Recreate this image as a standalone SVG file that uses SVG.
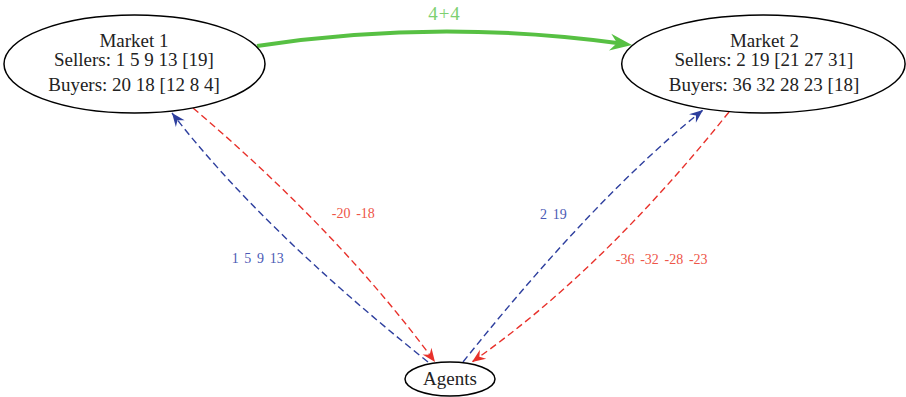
<svg xmlns="http://www.w3.org/2000/svg" width="906" height="397" viewBox="0 0 906 397">
<style>
.node ellipse{fill:#fff;stroke:#000;stroke-width:1.5}
.nt{font-family:"Liberation Serif","Times New Roman",serif;font-size:19px;fill:#222;text-anchor:middle}
.lbl{font-family:"Liberation Serif","Times New Roman",serif;font-size:14px;text-anchor:middle;word-spacing:2.2px}
.gl{font-family:"Liberation Serif","Times New Roman",serif;font-size:19px;text-anchor:middle;letter-spacing:1px;fill:#7dd070}
.dash{fill:none;stroke-width:1.4;stroke-dasharray:7 4}
.blue{stroke:#2e3f9e}
.red{stroke:#e8312b}
</style>
<defs>
<marker id="ahBlue" markerUnits="userSpaceOnUse" viewBox="-15 -7 16 14" refX="0" refY="0" markerWidth="16" markerHeight="14" orient="auto">
<path d="M0,0 L-13.5,-5.5 L-9,0 L-13.5,5.5 Z" fill="#2e3f9e"/>
</marker>
<marker id="ahRed" markerUnits="userSpaceOnUse" viewBox="-15 -7 16 14" refX="0" refY="0" markerWidth="16" markerHeight="14" orient="auto">
<path d="M0,0 L-13.5,-5.5 L-9,0 L-13.5,5.5 Z" fill="#e8312b"/>
</marker>
<marker id="ahGreen" markerUnits="userSpaceOnUse" viewBox="-23 -10 24 20" refX="-15" refY="0" markerWidth="24" markerHeight="20" orient="auto">
<path d="M0,0 L-22,-8.5 L-15,0 L-22,8.5 Z" fill="#57c043"/>
</marker>
</defs>
<rect width="906" height="397" fill="#fff"/>
<g id="connectors">
<path d="M257,46 Q435.5,18.5 617.1,43" fill="none" stroke="#57c043" stroke-width="4" marker-end="url(#ahGreen)"/>
<path class="dash blue" d="M428,362 Q260.4,227.9 172,113" marker-end="url(#ahBlue)"/>
<path class="dash red" d="M193,108 Q340.3,233.2 435,362" marker-end="url(#ahRed)"/>
<path class="dash blue" d="M463,362 Q596.3,195.3 703,110" marker-end="url(#ahBlue)"/>
<path class="dash red" d="M729,112 Q601.5,271.4 472,362" marker-end="url(#ahRed)"/>
<text class="gl" x="444.5" y="20">4+4</text>
<text class="lbl" x="257.7" y="262.7" fill="#4a5ab5">1 5 9 13</text>
<text class="lbl" x="353.3" y="218" fill="#ee5548">-20 -18</text>
<text class="lbl" x="553.3" y="219.3" fill="#4a5ab5">2 19</text>
<text class="lbl" x="661.7" y="264" fill="#ee5548">-36 -32 -28 -23</text>
</g>
<g id="market1" class="node">
<ellipse cx="134.5" cy="64" rx="130.5" ry="49"/>
<text class="nt" x="134" y="47">Market 1</text>
<text class="nt" x="134" y="66">Sellers: 1 5 9 13 [19]</text>
<text class="nt" x="134" y="91">Buyers: 20 18 [12 8 4]</text>
</g>
<g id="market2" class="node">
<ellipse cx="763.4" cy="64" rx="141.7" ry="49"/>
<text class="nt" x="764.5" y="47">Market 2</text>
<text class="nt" x="764" y="66">Sellers: 2 19 [21 27 31]</text>
<text class="nt" x="764" y="91">Buyers: 36 32 28 23 [18]</text>
</g>
<g id="agents" class="node">
<ellipse cx="450" cy="379" rx="45" ry="17"/>
<text class="nt" x="450" y="385">Agents</text>
</g>
</svg>
